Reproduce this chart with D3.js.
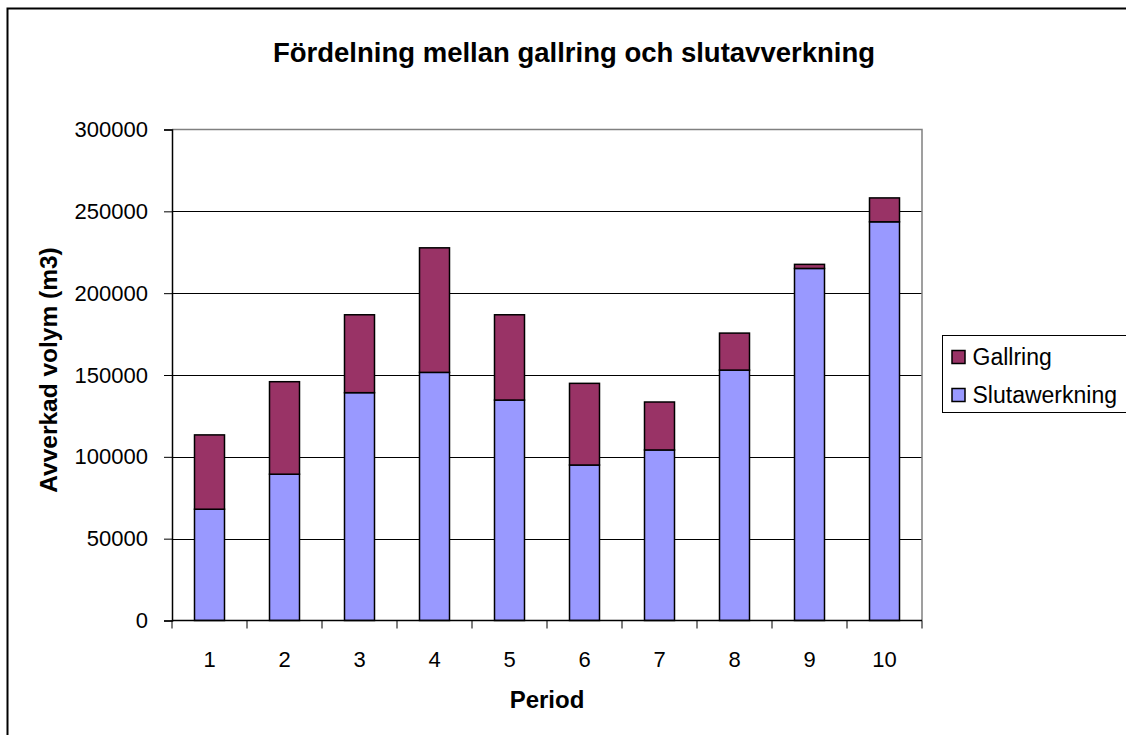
<!DOCTYPE html>
<html>
<head>
<meta charset="utf-8">
<script src="https://cdn.jsdelivr.net/npm/d3@7"></script>
<style>
  body { margin: 0; background: #fff; }
  svg { display: block; font-family: 'Liberation Sans', Arial, sans-serif; }
</style>
</head>
<body>
<svg id="chart" width="1126" height="735"></svg>
<script>
const periods = ['1', '2', '3', '4', '5', '6', '7', '8', '9', '10'];
const slutavverkning = [68000, 89400, 139200, 151600, 134700, 95000, 104200, 153000, 215100, 243600];
const gallring = [45400, 56500, 47600, 76100, 52100, 49900, 29300, 22600, 2500, 14600];
const seriesNames = ['Slutawerkning', 'Gallring'];
const seriesColors = ['#9999ff', '#993366'];
const yTicks = [0, 50000, 100000, 150000, 200000, 250000, 300000];

const svg = d3.select('#chart');
const margin = { top: 129.5, right: 204, bottom: 114.5, left: 172 };
const width = 1126;
const height = 735;

// chart frame
svg.append('rect')
  .attr('x', 7.5).attr('y', 8.5)
  .attr('width', 1130).attr('height', 740)
  .attr('fill', 'none').attr('stroke', '#000').attr('stroke-width', 2);

const x = d3.scaleBand()
  .domain(periods)
  .range([margin.left, width - margin.right])
  .paddingInner(0.6)
  .paddingOuter(0.3);

const y = d3.scaleLinear()
  .domain([0, 300000])
  .range([height - margin.bottom, margin.top]);

const rows = periods.map((p, i) => ({ period: p, Slutawerkning: slutavverkning[i], Gallring: gallring[i] }));
const stacked = d3.stack().keys(seriesNames)(rows);

// gridlines
svg.append('g')
  .selectAll('line')
  .data(yTicks.slice(1, -1))
  .join('line')
  .attr('x1', margin.left).attr('x2', width - margin.right)
  .attr('y1', d => Math.round(y(d)) + 0.5).attr('y2', d => Math.round(y(d)) + 0.5)
  .attr('stroke', '#000');

// plot area border (top and right)
svg.append('path')
  .attr('d', `M${margin.left},${y(300000)}H${width - margin.right}V${y(0)}`)
  .attr('fill', 'none').attr('stroke', '#808080').attr('stroke-width', 1.5);

// bars
svg.append('g')
  .selectAll('g')
  .data(stacked)
  .join('g')
  .attr('fill', (d, i) => seriesColors[i])
  .selectAll('rect')
  .data(d => d)
  .join('rect')
  .attr('x', d => x(d.data.period))
  .attr('y', d => y(d[1]))
  .attr('width', x.bandwidth())
  .attr('height', d => y(d[0]) - y(d[1]))
  .attr('stroke', '#000')
  .attr('stroke-width', 1.5);

// y axis
const yAxis = svg.append('g')
  .attr('transform', `translate(${margin.left},0)`)
  .call(d3.axisLeft(y).tickValues(yTicks).tickFormat(d3.format('d')).tickSize(8).tickPadding(16));
yAxis.select('.domain').attr('stroke', '#000').attr('stroke-width', 1.5);
yAxis.selectAll('.tick line').attr('stroke', '#000');
yAxis.selectAll('.tick text').attr('font-size', 22).attr('fill', '#000')
  .attr('font-family', "'Liberation Sans', Arial, sans-serif");

// x axis with ticks on category boundaries
const xAxisG = svg.append('g')
  .attr('transform', `translate(0,${y(0)})`);
xAxisG.append('line')
  .attr('x1', margin.left).attr('x2', width - margin.right)
  .attr('stroke', '#000').attr('stroke-width', 1.5);
const step = x.step();
xAxisG.selectAll('.bound')
  .data(d3.range(periods.length + 1))
  .join('line')
  .attr('class', 'bound')
  .attr('x1', i => margin.left + i * step).attr('x2', i => margin.left + i * step)
  .attr('y1', 0).attr('y2', 8)
  .attr('stroke', '#000');
xAxisG.selectAll('text')
  .data(periods)
  .join('text')
  .attr('x', d => x(d) + x.bandwidth() / 2)
  .attr('y', 46)
  .attr('text-anchor', 'middle')
  .attr('font-size', 22)
  .text(d => d);

// titles
svg.append('text')
  .attr('x', 574).attr('y', 62)
  .attr('text-anchor', 'middle')
  .attr('font-size', 27.5).attr('font-weight', 'bold')
  .text('Fördelning mellan gallring och slutavverkning');

svg.append('text')
  .attr('x', (margin.left + width - margin.right) / 2).attr('y', 708)
  .attr('text-anchor', 'middle')
  .attr('font-size', 24).attr('font-weight', 'bold')
  .text('Period');

svg.append('text')
  .attr('transform', 'translate(57,370) rotate(-90)')
  .attr('text-anchor', 'middle')
  .attr('font-size', 24.5).attr('font-weight', 'bold')
  .text('Avverkad volym (m3)');

// legend
const legend = svg.append('g').attr('transform', 'translate(942.5,335.5)');
legend.append('rect')
  .attr('width', 200).attr('height', 77)
  .attr('fill', '#fff').attr('stroke', '#000');
const legendItems = [
  { name: 'Gallring', color: seriesColors[1] },
  { name: 'Slutawerkning', color: seriesColors[0] }
];
const li = legend.selectAll('.item')
  .data(legendItems)
  .join('g')
  .attr('class', 'item')
  .attr('transform', (d, i) => `translate(9.5,${15 + i * 38})`);
li.append('rect')
  .attr('width', 13).attr('height', 13)
  .attr('fill', d => d.color).attr('stroke', '#000').attr('stroke-width', 1.5);
li.append('text')
  .attr('x', 20.5).attr('y', 14)
  .attr('font-size', 23)
  .text(d => d.name);
</script>
</body>
</html>
